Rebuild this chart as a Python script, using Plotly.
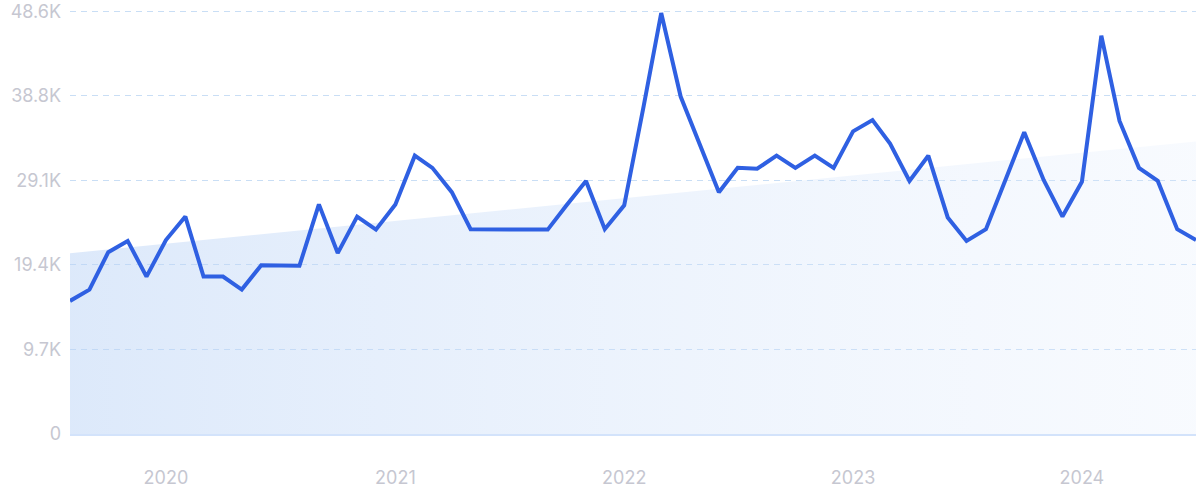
import pandas as pd
import plotly.graph_objects as go

# ---- data ----
start_month = "2019-08-01"
n_months = 60
values = [15300, 16600, 20900, 22200, 18100, 22300, 25000, 18100, 18100, 16600,
          19400, 19400, 19350, 26400, 20800, 25000, 23500, 26400, 32000, 30600,
          27800, 23550, 23550, 23550, 23550, 23500, 26300, 29100, 23550, 26300,
          37700, 48400, 38800, 33250, 27800, 30600, 30500, 32000, 30600, 32000,
          30600, 34800, 36100, 33400, 29100, 32000, 24900, 22200, 23550, 29200,
          34700, 29200, 25000, 29000, 45800, 36000, 30600, 29100, 23550, 22300]
trend_values = [20780, 33640]
y_tickvals = [0, 9720, 19440, 29160, 38880, 48600]
y_ticktext = ["0", "9.7K", "19.4K", "29.1K", "38.8K", "48.6K"]
x_tickvals = ["2020-01-01", "2021-01-01", "2022-01-01", "2023-01-01", "2024-01-01"]
x_ticktext = ["2020", "2021", "2022", "2023", "2024"]

dates = pd.date_range(start_month, periods=n_months, freq="MS")
trend_x = [dates[0], dates[-1]]

fig = go.Figure()
fig.add_trace(go.Scatter(
    x=trend_x, y=trend_values, mode="lines", line=dict(width=0),
    fill="tozeroy",
    fillgradient=dict(type="horizontal",
                      colorscale=[[0, "rgba(186,211,246,0.5)"],
                                  [1, "rgba(222,234,252,0.22)"]]),
    hoverinfo="skip", showlegend=False,
))
fig.add_trace(go.Scatter(
    x=dates, y=values, mode="lines",
    line=dict(color="#2F60E2", width=4),
    showlegend=False,
))

font_color = "#c6c7d1"
fig.update_layout(
    width=1200, height=499,
    margin=dict(l=70, r=4, t=10, b=65),
    paper_bgcolor="white", plot_bgcolor="white",
    font=dict(family="Inter, Lato, sans-serif", size=18, color=font_color),
    xaxis=dict(
        range=[dates[0], dates[-1]],
        tickvals=x_tickvals, ticktext=x_ticktext,
        showgrid=False, zeroline=False,
        showline=True, linecolor="#d3e3fb", linewidth=2,
        ticks="", ticklabelstandoff=26, automargin=False,
        tickfont=dict(size=18, color=font_color),
    ),
    yaxis=dict(
        range=[0, 48750],
        tickvals=y_tickvals, ticktext=y_ticktext,
        showgrid=True, gridcolor="#c9def5", griddash="6px,5px", gridwidth=1,
        zeroline=False, showline=False,
        ticks="", ticklabelstandoff=8, automargin=False,
        tickfont=dict(size=18, color=font_color),
    ),
)

fig.write_html("out.html",
               config={"displayModeBar": False},
               post_script="document.body.style.margin='0';document.body.style.overflow='hidden';")
